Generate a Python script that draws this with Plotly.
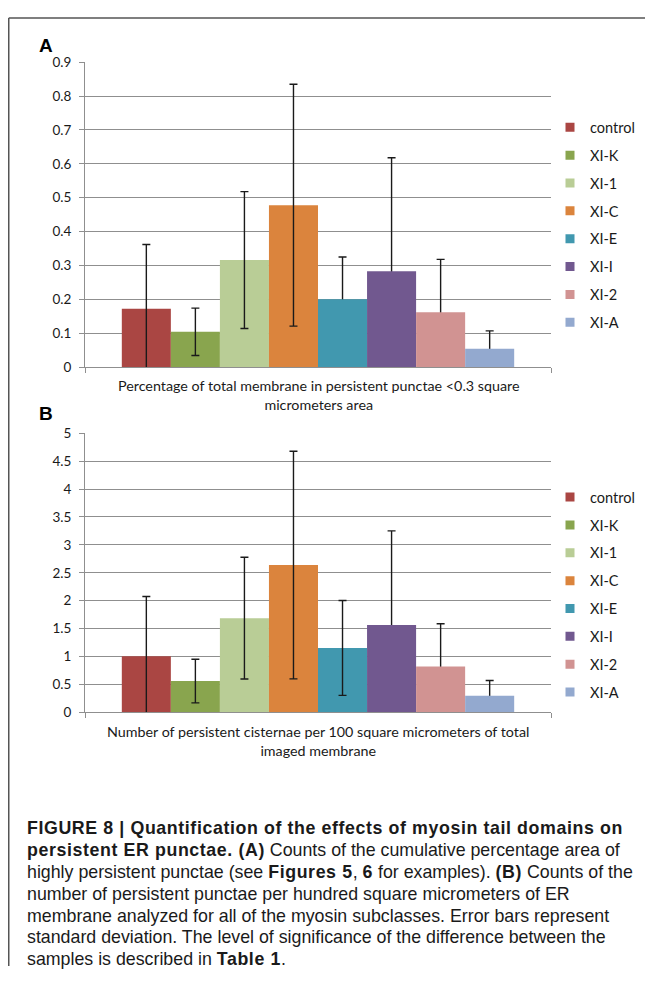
import plotly.graph_objects as go

# Page is 653x982; the HTML body keeps its default 8px margin, so the figure is
# drawn 8px in from the top-left corner of the page.
PAGE_OFF = 8
FW, FH = 645, 966

series = ["control", "XI-K", "XI-1", "XI-C", "XI-E", "XI-I", "XI-2", "XI-A"]
colors = ["#AA4643", "#89A54E", "#B9CD96", "#DB843D", "#4198AF", "#71588F", "#D19392", "#93A9CF"]
category = ["all"]

# Panel A: percentage of total membrane in persistent punctae < 0.3 um^2
a_values = [0.172, 0.104, 0.316, 0.478, 0.200, 0.283, 0.162, 0.054]
a_errors = [0.190, 0.070, 0.202, 0.357, 0.125, 0.335, 0.156, 0.053]
a_lower_visible = [True, True, True, True, False, False, False, False]

# Panel B: persistent cisternae per 100 um^2 of imaged membrane
b_values = [1.005, 0.559, 1.687, 2.638, 1.152, 1.563, 0.822, 0.294]
b_errors = [1.070, 0.390, 1.090, 2.040, 0.850, 1.687, 0.764, 0.275]
b_lower_visible = [True, True, True, True, True, False, False, False]

a_title = "Percentage of total membrane in persistent punctae <0.3 square<br>micrometers area"
b_title = "Number of persistent cisternae per 100 square micrometers of total<br>imaged membrane"

# caption: (text, bold) segments per line
caption_lines = [
    [("FIGURE 8 | Quantification of the effects of myosin tail domains on", True)],
    [("persistent ER punctae. (A)", True), (" Counts of the cumulative percentage area of", False)],
    [("highly persistent punctae (see ", False), ("Figures 5", True), (", ", False), ("6", True),
     (" for examples). ", False), ("(B)", True), (" Counts of the", False)],
    [("number of persistent punctae per hundred square micrometers of ER", False)],
    [("membrane analyzed for all of the myosin subclasses. Error bars represent", False)],
    [("standard deviation. The level of significance of the difference between the", False)],
    [("samples is described in ", False), ("Table 1", True), (".", False)],
]

CHART_FONT = "Lato, Calibri, Carlito, Open Sans, sans-serif"
CAP_FONT = "Liberation Sans, Arial, Helvetica, sans-serif"
GRID = "#8f8f8f"
ERR = "#1a1a1a"


def px(p):
    return (p - PAGE_OFF) / FW


def py(p):
    return 1 - (p - PAGE_OFF) / FH


def seg_html(segments):
    out = []
    for text, bold in segments:
        if bold:
            out.append('<span style="font-weight:bold;letter-spacing:0.6px">' + text + "</span>")
        else:
            out.append(text)
    return "".join(out)


fig = go.Figure()


def add_panel(values, errors, lower_visible, base_x, base_y, top_x, top_y, legend):
    for i, name in enumerate(series):
        err = dict(type="data", array=[errors[i]], symmetric=True, color=ERR, thickness=1.4, width=4)
        # error bars whose lower half is hidden behind the bar live on the base subplot
        fig.add_trace(go.Bar(
            x=category, y=[values[i]], offsetgroup=str(i),
            marker=dict(color="rgba(0,0,0,0)", line=dict(width=0)),
            error_y=err if not lower_visible[i] else dict(visible=False),
            showlegend=False, hoverinfo="skip", xaxis=base_x, yaxis=base_y))
        # visible bars on the overlaying subplot (drawn above)
        fig.add_trace(go.Bar(
            x=category, y=[values[i]], offsetgroup=str(i), name=name,
            marker=dict(color=colors[i], line=dict(width=0)),
            error_y=err if lower_visible[i] else dict(visible=False),
            legendgroup=legend + name, showlegend=False,
            xaxis=top_x, yaxis=top_y))
        # legend swatch
        fig.add_trace(go.Scatter(
            x=[None], y=[None], mode="markers", name=name,
            marker=dict(symbol="square", size=9, color=colors[i]),
            legend=legend, legendgroup=legend + name, showlegend=True,
            xaxis=top_x, yaxis=top_y))


add_panel(a_values, a_errors, a_lower_visible, "x", "y", "x3", "y3", "legend")
add_panel(b_values, b_errors, b_lower_visible, "x2", "y2", "x4", "y4", "legend2")

xdom = [px(85), px(551)]
xcommon = dict(domain=xdom, showticklabels=False, showline=True, linecolor=GRID, linewidth=1,
               ticks="outside", tickson="boundaries", ticklen=5, tickcolor=GRID, showgrid=False,
               type="category")
ycommon = dict(showline=True, linecolor=GRID, linewidth=1, ticks="outside", ticklen=5,
               tickcolor=GRID, showgrid=True, gridcolor=GRID, gridwidth=1, zeroline=False,
               tickfont=dict(family=CHART_FONT, size=13.5, color="#1a1a1a"), ticklabelstandoff=5)

legcommon = dict(font=dict(family=CHART_FONT, size=14.5, color="#1a1a1a"), traceorder="grouped",
                 tracegroupgap=6, bgcolor="rgba(0,0,0,0)", xanchor="left", yanchor="top",
                 itemclick="toggle")

a_dom = [py(365), py(55)]
b_dom = [py(716), py(432.3)]

fig.update_layout(
    width=FW, height=FH, margin=dict(l=0, r=0, t=0, b=0),
    paper_bgcolor="white", plot_bgcolor="white",
    barmode="group", bargap=0.158, bargroupgap=0,
    font=dict(family=CHART_FONT, color="#1a1a1a"),
    xaxis=dict(xcommon, anchor="y"),
    yaxis=dict(ycommon, domain=a_dom, range=[0, 0.9], dtick=0.1, anchor="x"),
    xaxis2=dict(xcommon, anchor="y2"),
    yaxis2=dict(ycommon, domain=b_dom, range=[0, 5], dtick=0.5, anchor="x2"),
    xaxis3=dict(domain=xdom, type="category", overlaying="x", anchor="y3", visible=False),
    yaxis3=dict(domain=a_dom, range=[0, 0.9], overlaying="y", anchor="x3", visible=False),
    xaxis4=dict(domain=xdom, type="category", overlaying="x2", anchor="y4", visible=False),
    yaxis4=dict(domain=b_dom, range=[0, 5], overlaying="y2", anchor="x4", visible=False),
    legend=dict(legcommon, x=px(550), y=py(105)),
    legend2=dict(legcommon, x=px(550), y=py(481)),
    showlegend=True,
)

annotations = [
    dict(text="<b>A</b>", x=px(37), y=py(38), xanchor="left", yanchor="middle",
         font=dict(family="Liberation Sans, Arial, sans-serif", size=19, color="black")),
    dict(text="<b>B</b>", x=px(37), y=py(412), xanchor="left", yanchor="middle",
         font=dict(family="Liberation Sans, Arial, sans-serif", size=19, color="black")),
    dict(text=a_title, x=px(318), y=py(393.5), xanchor="center", yanchor="middle",
         font=dict(family=CHART_FONT, size=14.3, color="#1a1a1a")),
    dict(text=b_title, x=px(318), y=py(745.5), xanchor="center", yanchor="middle",
         font=dict(family=CHART_FONT, size=14.3, color="#1a1a1a")),
]
first_line_y, line_step = 834, 22.2
for k, segs in enumerate(caption_lines):
    annotations.append(dict(text=seg_html(segs), x=px(25), y=py(first_line_y + k * line_step),
                            xanchor="left", yanchor="middle", align="left",
                            font=dict(family=CAP_FONT, size=17.8, color="#1a1a1a")))
for a in annotations:
    a.update(xref="paper", yref="paper", showarrow=False)
fig.update_layout(annotations=annotations)

fig.update_layout(shapes=[
    dict(type="line", xref="paper", yref="paper", x0=px(8.75), x1=1, y0=py(10), y1=py(10),
         line=dict(color="#555", width=1.5)),
    dict(type="line", xref="paper", yref="paper", x0=px(8.75), x1=px(8.75), y0=py(10), y1=0,
         line=dict(color="#555", width=1.5)),
])

fig.write_html("out.html")
